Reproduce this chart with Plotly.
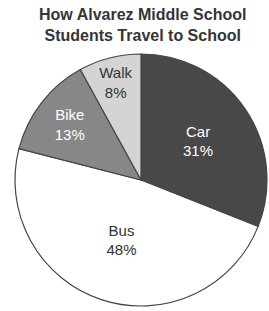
import plotly.graph_objects as go

labels = ["Car", "Bus", "Bike", "Walk"]
values = [31, 48, 13, 8]
colors = ["#484848", "#ffffff", "#878787", "#d4d4d4"]
text_colors = ["#ffffff", "#333333", "#ffffff", "#333333"]

W, H = 269, 311
cx, cy, r = 141, 180, 126

fig = go.Figure(go.Pie(
    labels=labels,
    values=values,
    sort=False,
    direction="clockwise",
    rotation=0,
    marker=dict(colors=colors, line=dict(color="#444444", width=1.2)),
    texttemplate="%{label}<br>%{value}%",
    textposition="inside",
    insidetextorientation="horizontal",
    insidetextfont=dict(family="Arial, Liberation Sans", size=15, color=text_colors),
    hoverinfo="label+percent",
    showlegend=False,
    domain=dict(x=[(cx - r) / W, (cx + r) / W], y=[(H - cy - r) / H, (H - cy + r) / H]),
))

fig.update_layout(
    width=W, height=H,
    margin=dict(l=0, r=0, t=0, b=0),
    paper_bgcolor="white",
    plot_bgcolor="white",
    annotations=[dict(
        text="<b>How Alvarez Middle School<br>Students Travel to School</b>",
        x=142 / W, y=1 - 4 / H, xref="paper", yref="paper",
        xanchor="center", yanchor="top", showarrow=False,
        font=dict(family="Arial, Liberation Sans", size=16, color="#353535"),
    )],
)

fig.write_html("out.html", config={"displayModeBar": False},
               post_script="document.body.style.margin='0';")
